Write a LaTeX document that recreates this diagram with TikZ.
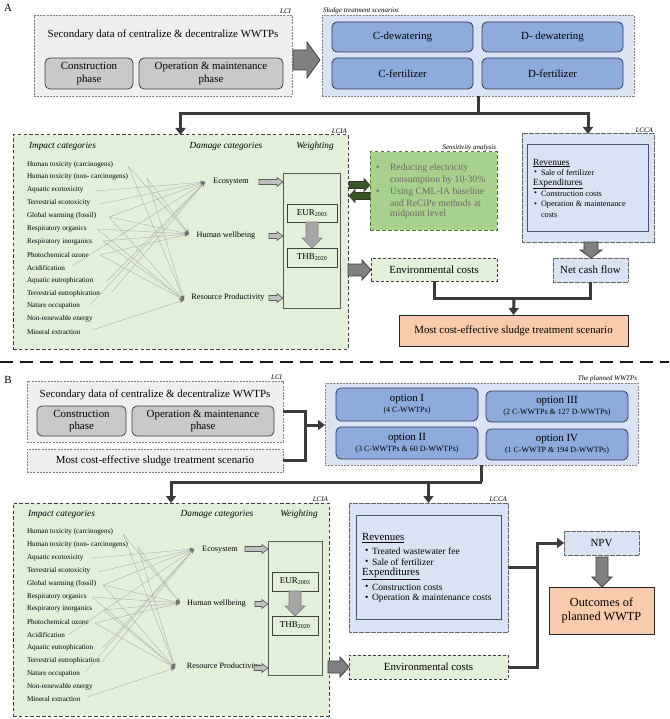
\documentclass[tikz,border=0pt]{standalone}
\usepackage{fontspec}
\setmainfont{Liberation Serif}
\usetikzlibrary{arrows.meta,calc}
\definecolor{lgray}{HTML}{EFEFEF}
\definecolor{lgrayb}{HTML}{808080}
\definecolor{phasefill}{HTML}{C9C9C9}
\definecolor{phaseb}{HTML}{404040}
\definecolor{scenfill}{HTML}{DAE3F3}
\definecolor{optfill}{HTML}{8FAADC}
\definecolor{optb}{HTML}{2F3B55}
\definecolor{lgreen}{HTML}{E2F0D9}
\definecolor{lciab}{HTML}{3F3F3F}
\definecolor{sensfill}{HTML}{A9D18E}
\definecolor{sensb}{HTML}{4E7A2E}
\definecolor{senstext}{HTML}{6A6A6A}
\definecolor{dgreen}{HTML}{385723}
\definecolor{innerb}{HTML}{44546A}
\definecolor{peach}{HTML}{F8CBAD}
\definecolor{conncol}{HTML}{3B3B3B}
\definecolor{impline}{HTML}{B4B4B4}
\newcommand\myrarrow[6]{\filldraw[#1] let \p1=(#2), \p2=(#3) in
 (\x1,\y1+#4) -- (\x2-#6,\y1+#4) -- (\x2-#6,\y1+#5) -- (\x2,\y1) -- (\x2-#6,\y1-#5) -- (\x2-#6,\y1-#4) -- (\x1,\y1-#4) -- cycle;}
\newcommand\mylarrow[6]{\filldraw[#1] let \p1=(#2), \p2=(#3) in
 (\x1,\y1+#4) -- (\x2+#6,\y1+#4) -- (\x2+#6,\y1+#5) -- (\x2,\y1) -- (\x2+#6,\y1-#5) -- (\x2+#6,\y1-#4) -- (\x1,\y1-#4) -- cycle;}
\newcommand\mydarrow[6]{\filldraw[#1] let \p1=(#2), \p2=(#3) in
 (\x1-#4,\y1) -- (\x1-#4,\y2+#6) -- (\x1-#5,\y2+#6) -- (\x1,\y2) -- (\x1+#5,\y2+#6) -- (\x1+#4,\y2+#6) -- (\x1+#4,\y1) -- cycle;}
\begin{document}
\begin{tikzpicture}[x=1pt,y=-1pt,
  every node/.style={inner sep=0pt, outer sep=0pt},
  f11/.style={font=\fontsize{10.9}{12.7}\selectfont},
  lab/.style={font=\itshape\fontsize{7}{8}\selectfont, inner sep=1pt},
  headf/.style={font=\itshape\fontsize{9.3}{11}\selectfont},
  imp/.style={font=\fontsize{7.2}{8}\selectfont, anchor=west},
  dam/.style={font=\fontsize{8.2}{10}\selectfont},
  lcibox/.style={anchor=north west, fill=lgray, draw=lgrayb, line width=0.7pt, dash pattern=on 2pt off 1.2pt},
  phase/.style={anchor=north west, align=center, fill=phasefill, draw=phaseb, line width=0.8pt, rounded corners=5pt, f11},
  scenbox/.style={anchor=north west, fill=scenfill, draw=lgrayb, line width=0.7pt, dash pattern=on 2pt off 1.2pt},
  opt/.style={anchor=north west, align=center, fill=optfill, draw=optb, line width=0.8pt, rounded corners=5pt, f11},
  lciabox/.style={anchor=north west, fill=lgreen, draw=lciab, line width=1pt, dash pattern=on 3.5pt off 2.3pt},
  wbox/.style={anchor=north west, draw=black!65, line width=0.8pt},
  eurbox/.style={anchor=north west, fill=lgreen, draw=black!75, line width=0.7pt, font=\fontsize{9}{10}\selectfont},
  sensbox/.style={anchor=north west, fill=sensfill, draw=sensb, line width=1pt, dash pattern=on 3.5pt off 2.5pt},
  senst/.style={anchor=west, text=senstext, font=\fontsize{9.7}{11.6}\selectfont},
  envbox/.style={anchor=north west, fill=lgreen, draw=lciab, line width=0.9pt, dash pattern=on 3pt off 2pt, f11},
  lccabox/.style={anchor=north west, fill=scenfill, draw=black!60, line width=1pt, dash pattern=on 0.6pt off 0.6pt},
  innerbox/.style={anchor=north west, fill=scenfill, draw=innerb, line width=0.9pt},
  peachbox/.style={anchor=north west, align=center, fill=peach, draw=black!85, line width=1pt},
  conn/.style={draw=conncol, line width=3pt},
  tip/.style={-{Triangle[width=10pt,length=7pt]}},
  impl/.style={draw=impline, line width=0.45pt, -{Stealth[length=4.5pt,width=3.5pt,color=black!55]}},
  bigarrow/.style={fill=black!50, draw=black!75, line width=0.8pt},
  smarrow/.style={fill=black!25, draw=black!65, line width=0.6pt},
  midarrow/.style={fill=black!35, draw=black!50, line width=0.7pt},
  garrow/.style={fill=dgreen, draw=black!80, line width=0.6pt}
]
\useasboundingbox (0,0) rectangle (669,719);
\fill[white] (0,0) rectangle (669,719);

% ================= PART A =================
\node[f11] (labA) at (8,8) {A};
\node[lcibox, minimum width=258, minimum height=81] (lciA) at (34,15) {};
\node[lab, anchor=south east] (lciAl) at (lciA.north east) {LCI};
\node[f11] (secA) at (163,35) {Secondary data of centralize \& decentralize WWTPs};
\node[phase, minimum width=88, minimum height=31] (conA) at (45,58) {Construction\\phase};
\node[phase, minimum width=144, minimum height=31] (opA) at (139,58) {Operation \& maintenance\\phase};

\node[scenbox, minimum width=312, minimum height=81] (scenA) at (322,15) {};
\node[lab, anchor=south west] (scenAl) at (scenA.north west) {Sludge treatment scenarios};
\node[opt, minimum width=141, minimum height=30] (cdew) at (332,22) {C-dewatering};
\node[opt, minimum width=141, minimum height=30] (ddew) at (482,22) {D- dewatering};
\node[opt, minimum width=141, minimum height=31] (cfer) at (332,58) {C-fertilizer};
\node[opt, minimum width=141, minimum height=31] (dfer) at (482,58) {D-fertilizer};

\coordinate (bA1) at (293,60);
\coordinate (bA1e) at (320,60);
\myrarrow{bigarrow}{bA1}{bA1e}{10pt}{18pt}{13pt}

% LCIA A
\node[lciabox, minimum width=335, minimum height=214] (lciaA) at (13,135) {};
\node[lab, anchor=south east] (lciaAl) at (lciaA.north east) {LCIA};
\node[headf, anchor=west] (icA) at (29,146) {Impact categories};
\node[headf] (dcA) at (226,146) {Damage categories};
\node[headf] (wtA) at (315,146) {Weighting};
\foreach \t [count=\i] in {Human toxicity (carcinogens),Human toxicity (non- carcinogens),Aquatic ecotoxicity,Terrestrial ecotoxicity,Global warming (fossil),Respiratory organics,Respiratory inorganics,Photochemical ozone,Acidification,Aquatic eutrophication,Terrestrial eutrophication,Nature occupation,Non-renewable energy,Mineral extraction}
  {\node[imp] (iA\i) at (27,{151.4+12.9*\i}) {\t};}
\node[dam] (ecoA) at (231,182) {Ecosystem};
\node[dam] (hwA) at (226,236) {Human wellbeing};
\node[dam] (rpA) at (228,298) {Resource Productivity};
\coordinate (eA) at (205,182);
\coordinate (hA) at (189,234);
\coordinate (rA) at (184,300);
\coordinate (a1) at (128,166);
\coordinate (a2) at (147,178);
\coordinate (a3) at (95,191);
\coordinate (a4) at (100,204);
\coordinate (a5) at (109,217);
\coordinate (a6) at (97,229);
\coordinate (a7) at (103,241);
\coordinate (a8) at (100,255);
\coordinate (a9) at (72,266);
\coordinate (a10) at (107,281);
\coordinate (a11) at (112,292);
\coordinate (a12) at (90,305);
\coordinate (a14) at (92,330);
\foreach \s/\t in {a1/hA,a1/rA,a2/hA,a2/rA,a3/eA,a4/eA,a5/eA,a5/hA,a5/rA,a6/hA,a6/rA,a7/hA,a7/rA,a8/hA,a8/rA,a9/eA,a10/eA,a11/eA,a12/eA,a14/rA}
  {\draw[impl] (\s) -- (\t);}
\node[wbox, minimum width=57, minimum height=135] (wA) at (283,173) {};
\coordinate (sA1) at (259,182);
\coordinate (sA2) at (269,236);
\coordinate (sA3) at (269,298);
\myrarrow{smarrow}{sA1}{wA.west}{2.5pt}{4.5pt}{6pt}
\myrarrow{smarrow}{sA2}{wA.west}{2.5pt}{4.5pt}{6pt}
\myrarrow{smarrow}{sA3}{wA.west}{2.5pt}{4.5pt}{6pt}
\node[eurbox, minimum width=50, minimum height=18] (eurA) at (287,204) {EUR\textsubscript{2003}};
\node[eurbox, minimum width=50, minimum height=19] (thbA) at (287,248) {THB\textsubscript{2020}};
\mydarrow{midarrow}{eurA.south}{thbA.north}{6pt}{10pt}{10pt}

% Sensitivity
\node[sensbox, minimum width=127, minimum height=78] (sensA) at (370,152) {};
\node[lab, anchor=south east] (sensAl) at (sensA.north east) {Sensitivity analysis};
\node[senst] (sb1) at (376,168) {•};
\node[senst] (sb2) at (376,192) {•};
\node[senst] (st1) at (390,168) {Reducing electricity};
\node[senst] (st2) at (390,180) {consumption by 10-30\%};
\node[senst] (st3) at (390,192) {Using CML-IA baseline};
\node[senst] (st4) at (390,203) {and ReCiPe methods at};
\node[senst] (st5) at (390,214) {midpoint level};
\coordinate (g1) at (349,185);
\coordinate (g1e) at (370,185);
\coordinate (g2) at (370,196);
\coordinate (g2e) at (349,196);
\myrarrow{garrow}{g1}{g1e}{3.5pt}{6.5pt}{6pt}
\mylarrow{garrow}{g2}{g2e}{3.5pt}{6.5pt}{6pt}

% Environmental costs A
\node[envbox, minimum width=126, minimum height=23] (envA) at (371,258) {Environmental costs};
\coordinate (e1) at (348,270);
\myrarrow{bigarrow}{e1}{envA.west}{6pt}{10pt}{9pt}

% LCCA A
\node[lccabox, minimum width=132, minimum height=108] (lccaA) at (522,134) {};
\node[lab, anchor=south east] (lccaAl) at (lccaA.north east) {LCCA};
\node[innerbox, minimum width=121, minimum height=87] (inA) at (527,144) {};
\node[anchor=west, font=\fontsize{9.4}{11}\selectfont] (rvA) at (533,163) {\underline{Revenues}};
\node[anchor=west, font=\fontsize{8.2}{10}\selectfont] (rbA1) at (534,173) {•};
\node[anchor=west, font=\fontsize{8.2}{10}\selectfont] (rtA1) at (541,173) {Sale of fertilizer};
\node[anchor=west, font=\fontsize{9.4}{11}\selectfont] (exA) at (533,184) {\underline{Expenditures}};
\node[anchor=west, font=\fontsize{8.2}{10}\selectfont] (ebA1) at (534,194) {•};
\node[anchor=west, font=\fontsize{8.2}{10}\selectfont] (etA1) at (541,194) {Construction costs};
\node[anchor=west, font=\fontsize{8.2}{10}\selectfont] (ebA2) at (534,205) {•};
\node[anchor=west, font=\fontsize{8.2}{10}\selectfont] (etA2) at (541,205) {Operation \& maintenance};
\node[anchor=west, font=\fontsize{8.2}{10}\selectfont] (etA3) at (541,215) {costs};
\node[lccabox, minimum width=75, minimum height=24, f11] (ncf) at (553,258) {Net cash flow};
\coordinate (l1) at (591,242);
\mydarrow{bigarrow}{l1}{ncf.north}{7pt}{11pt}{8pt}

\node[peachbox, minimum width=229, minimum height=31, f11] (mcA) at (399,315) {Most cost-effective sludge treatment scenario};

% connectors A
\coordinate (jA) at (478,114);
\draw[conn] (scenA.south) -- (jA);
\draw[conn,tip] (jA) -| (lciaA.north);
\draw[conn,tip] (jA) -| (lccaA.north);
\coordinate (jC) at (514,298);
\draw[conn] (envA.south) |- (jC) -| (ncf.south);
\draw[conn,tip] (jC) -- (mcA.north);

% separator
\coordinate (sepL) at (0,362);
\coordinate (sepR) at (669,362);
\draw[draw=black!90, line width=2.6pt, dash pattern=on 13pt off 7pt] (sepL) -- (sepR);

% ================= PART B =================
\node[f11] (labB) at (8,380) {B};
\node[lcibox, minimum width=256, minimum height=61] (lciB) at (27,381) {};
\node[lab, anchor=south east] (lciBl) at (lciB.north east) {LCI};
\node[f11] (secB) at (155,395) {Secondary data of centralize \& decentralize WWTPs};
\node[phase, minimum width=89, minimum height=30] (conB) at (37,406) {Construction\\phase};
\node[phase, minimum width=142, minimum height=30] (opB) at (132,406) {Operation \& maintenance\\phase};
\node[lcibox, minimum width=256, minimum height=23, f11] (mcB) at (27,449) {Most cost-effective sludge treatment scenario};

\node[scenbox, minimum width=313, minimum height=82] (planB) at (325,383) {};
\node[lab, anchor=south east] (planBl) at (planB.north east) {The planned WWTPs};
\node[opt, minimum width=142, minimum height=33] (o1) at (336,388) {option I\\[-2pt]{\fontsize{8}{9}\selectfont (4 C-WWTPs)}};
\node[opt, minimum width=142, minimum height=32] (o2) at (336,427) {option II\\[-2pt]{\fontsize{8}{9}\selectfont (3 C-WWTPs \& 60 D-WWTPs)}};
\node[opt, minimum width=142, minimum height=31] (o3) at (486,391) {option III\\[-2pt]{\fontsize{8}{9}\selectfont (2 C-WWTPs \& 127 D-WWTPs)}};
\node[opt, minimum width=142, minimum height=31] (o4) at (486,429) {option IV\\[-2pt]{\fontsize{8}{9}\selectfont (1 C-WWTP \& 194 D-WWTPs)}};

\coordinate (jL) at (305,425);
\draw[conn] (lciB.east) -| (jL);
\draw[conn] (mcB.east) -| (jL);
\draw[conn,tip] (jL) -- (planB.west |- jL);

% LCIA B
\node[lciabox, minimum width=316, minimum height=213] (lciaB) at (13,503) {};
\node[lab, anchor=south east] (lciaBl) at (lciaB.north east) {LCIA};
\node[headf, anchor=west] (icB) at (28,514) {Impact categories};
\node[headf] (dcB) at (217,514) {Damage categories};
\node[headf] (wtB) at (299,514) {Weighting};
\foreach \t [count=\i] in {Human toxicity (carcinogens),Human toxicity (non- carcinogens),Aquatic ecotoxicity,Terrestrial ecotoxicity,Global warming (fossil),Respiratory organics,Respiratory inorganics,Photochemical ozone,Acidification,Aquatic eutrophication,Terrestrial eutrophication,Nature occupation,Non-renewable energy,Mineral extraction}
  {\node[imp] (iB\i) at (27,{519.4+12.85*\i}) {\t};}
\node[dam] (ecoB) at (220,550) {Ecosystem};
\node[dam] (hwB) at (216.5,604) {Human wellbeing};
\node[dam] (rpB) at (223.5,667) {Resource Productivity};
\coordinate (eB) at (194,549);
\coordinate (hB) at (180,603);
\coordinate (rB) at (175,668);
\coordinate (b1) at (123,534);
\coordinate (b2) at (138,547);
\coordinate (b3) at (92,558);
\coordinate (b4) at (98,572);
\coordinate (b5) at (103,585);
\coordinate (b6) at (92,597);
\coordinate (b7) at (103,610);
\coordinate (b8) at (95,623);
\coordinate (b9) at (68,635);
\coordinate (b10) at (103,648);
\coordinate (b11) at (102,662);
\coordinate (b12) at (85,672);
\coordinate (b14) at (87,697);
\foreach \s/\t in {b1/hB,b1/rB,b2/hB,b2/rB,b3/eB,b4/eB,b5/eB,b5/hB,b5/rB,b6/hB,b6/rB,b7/hB,b7/rB,b8/hB,b8/rB,b9/eB,b10/eB,b11/eB,b12/eB,b14/rB}
  {\draw[impl] (\s) -- (\t);}
\node[wbox, minimum width=54, minimum height=134] (wB) at (268,541) {};
\coordinate (sB1) at (245,549);
\coordinate (sB2) at (255,604);
\coordinate (sB3) at (254,668);
\myrarrow{smarrow}{sB1}{wB.west}{2.5pt}{4.5pt}{6pt}
\myrarrow{smarrow}{sB2}{wB.west}{2.5pt}{4.5pt}{6pt}
\myrarrow{smarrow}{sB3}{wB.west}{2.5pt}{4.5pt}{6pt}
\node[eurbox, minimum width=46, minimum height=19] (eurB) at (272,572) {EUR\textsubscript{2003}};
\node[eurbox, minimum width=46, minimum height=19] (thbB) at (272,616) {THB\textsubscript{2020}};
\mydarrow{midarrow}{eurB.south}{thbB.north}{6pt}{10pt}{10pt}

% LCCA B
\node[lccabox, minimum width=159, minimum height=129] (lccaB) at (349,503) {};
\node[lab, anchor=south east] (lccaBl) at (lccaB.north east) {LCCA};
\node[innerbox, minimum width=145, minimum height=104] (inB) at (356,515) {};
\node[anchor=west, f11] (rvB) at (362,538) {\underline{Revenues}};
\node[anchor=west, font=\fontsize{9.5}{11}\selectfont] (rbB1) at (365,551) {•};
\node[anchor=west, font=\fontsize{9.5}{11}\selectfont] (rtB1) at (372,551) {Treated wastewater fee};
\node[anchor=west, font=\fontsize{9.5}{11}\selectfont] (rbB2) at (365,562) {•};
\node[anchor=west, font=\fontsize{9.5}{11}\selectfont] (rtB2) at (372,562) {Sale of fertilizer};
\node[anchor=west, f11] (exB) at (362,574) {\underline{Expenditures}};
\node[anchor=west, font=\fontsize{9.5}{11}\selectfont] (ebB1) at (365,587) {•};
\node[anchor=west, font=\fontsize{9.5}{11}\selectfont] (etB1) at (372,587) {Construction costs};
\node[anchor=west, font=\fontsize{9.5}{11}\selectfont] (ebB2) at (365,598) {•};
\node[anchor=west, font=\fontsize{9.5}{11}\selectfont] (etB2) at (372,598) {Operation \& maintenance costs};

\coordinate (jP) at (481.5,482);
\draw[conn] (planB.south) -- (jP);
\draw[conn,tip] (jP) -| (lciaB.north);
\draw[conn,tip] (lccaB.north |- jP) -- (lccaB.north);

% Environmental costs B
\node[envbox, minimum width=159, minimum height=24] (envB) at (349,655) {Environmental costs};
\coordinate (e2) at (328,667);
\myrarrow{bigarrow}{e2}{envB.west}{6pt}{10pt}{9pt}

% NPV and outcomes
\node[lccabox, minimum width=75, minimum height=24, f11] (npv) at (564,531) {NPV};
\node[peachbox, minimum width=105, minimum height=47, font=\fontsize{12.3}{14.3}\selectfont] (outB) at (549,587) {Outcomes of\\planned WWTP};
\coordinate (n1) at (602,557);
\mydarrow{bigarrow}{n1}{outB.north}{6pt}{10pt}{10pt}
\coordinate (jN) at (537,543);
\draw[conn] (lccaB.east) -- (lccaB.east -| jN);
\draw[conn,tip] (envB.east) -| (jN) |- (npv.west);
\end{tikzpicture}
\end{document}
